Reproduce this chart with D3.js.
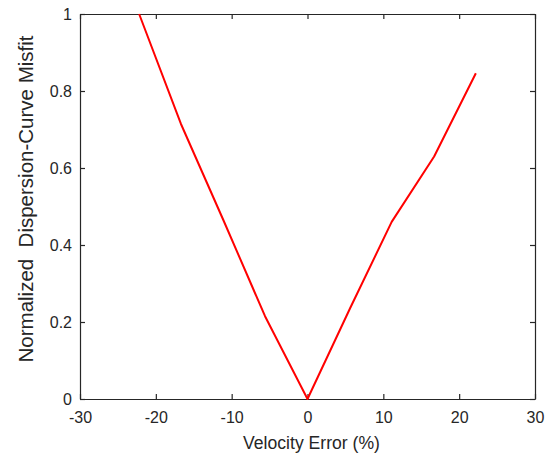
<!DOCTYPE html>
<html>
<head>
<meta charset="utf-8">
<script src="https://cdn.jsdelivr.net/npm/d3@7"></script>
<style>
  body { margin: 0; background: #fff; }
  svg text { font-family: "Liberation Sans", Arial, Helvetica, sans-serif; fill: #262626; }
</style>
</head>
<body>
<div id="chart"></div>
<script>
// velocity error (%) and normalized misfit
var velError = [-22.2, -16.7, -11.1, -5.6, 0, 5.6, 11.1, 16.7, 22.2];
var misfit = [1.0, 0.715, 0.465, 0.215, 0, 0.235, 0.46, 0.63, 0.846];
var xTicks = [-30, -20, -10, 0, 10, 20, 30];
var yTicks = [0, 0.2, 0.4, 0.6, 0.8, 1];

var W = 550, H = 457;
var margin = { top: 14, right: 15, bottom: 58, left: 80 },
    width = W - margin.left - margin.right,
    height = H - margin.top - margin.bottom;

var svg = d3.select("#chart")
    .append("svg")
    .attr("width", W)
    .attr("height", H)
    .append("g")
    .attr("transform", "translate(" + margin.left + "," + margin.top + ")");

var x = d3.scaleLinear().domain([-30, 30]).range([0, width]);
var y = d3.scaleLinear().domain([0, 1]).range([height, 0]);

var axisColor = "#262626";
var plain = function (d) { return String(d); }; // hyphen minus like the original

function styleAxis(g) {
    g.select(".domain").attr("stroke", axisColor).attr("stroke-width", 1.2);
    g.selectAll(".tick line").attr("stroke", axisColor).attr("stroke-width", 1.2);
    g.selectAll(".tick text").style("font-size", "16px").attr("fill", axisColor);
}

// bottom + left with labels
svg.append("g")
    .attr("transform", "translate(0," + height + ")")
    .call(d3.axisBottom(x).tickValues(xTicks).tickFormat(plain)
        .tickSizeInner(-5).tickSizeOuter(0).tickPadding(12.5))
    .call(styleAxis);

svg.append("g")
    .call(d3.axisLeft(y).tickValues(yTicks).tickFormat(plain)
        .tickSizeInner(-5).tickSizeOuter(0).tickPadding(8))
    .call(styleAxis);

// top + right (box, no labels)
svg.append("g")
    .call(d3.axisTop(x).tickValues(xTicks).tickFormat("")
        .tickSizeInner(-5).tickSizeOuter(0))
    .call(styleAxis);

svg.append("g")
    .attr("transform", "translate(" + width + ",0)")
    .call(d3.axisRight(y).tickValues(yTicks).tickFormat("")
        .tickSizeInner(-5).tickSizeOuter(0))
    .call(styleAxis);

// misfit curve
var line = d3.line()
    .x(function (d, i) { return x(velError[i]); })
    .y(function (d) { return y(d); });

svg.append("path")
    .datum(misfit)
    .attr("fill", "none")
    .attr("stroke", "#ff0000")
    .attr("stroke-width", 2)
    .attr("stroke-linejoin", "round")
    .attr("d", line);

// axis labels
svg.append("text")
    .attr("x", width / 2 + 4)
    .attr("y", height + 50)
    .attr("text-anchor", "middle")
    .style("font-size", "17.6px")
    .text("Velocity Error (%)");

svg.append("text")
    .attr("transform", "translate(" + (33 - margin.left) + "," + (199 - margin.top) + ") rotate(-90)")
    .attr("text-anchor", "middle")
    .style("font-size", "20.5px")
    .style("white-space", "pre")
    .attr("xml:space", "preserve")
    .text("Normalized  Dispersion-Curve Misfit");
</script>
</body>
</html>
